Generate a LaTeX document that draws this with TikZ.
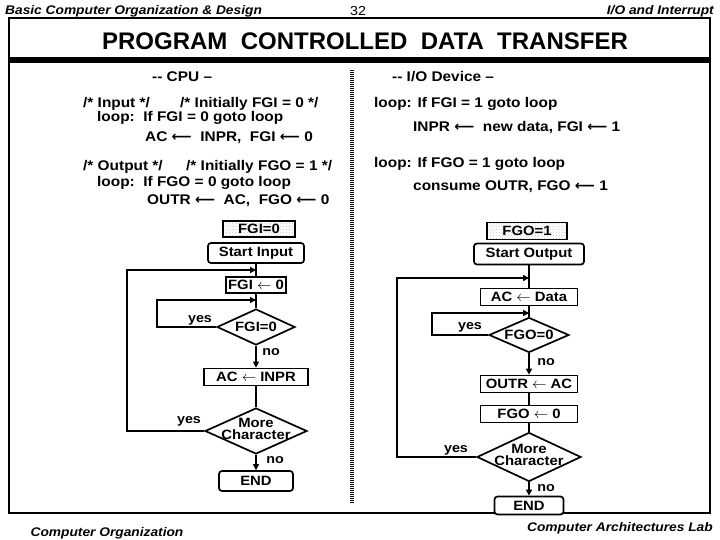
\documentclass[tikz,border=0pt]{standalone}
\usepackage{fontspec}
\setmainfont{Liberation Sans}[FakeStretch=1.1]
\newfontfamily\titlefont{Liberation Sans}
\newfontfamily\arrfont{DejaVu Sans}
\usetikzlibrary{shapes.geometric,arrows.meta,patterns}
\newcommand{\larr}{{\arrfont\bfseries ⟵}}
\newcommand{\sarr}{$\leftarrow$}
\begin{document}
\begin{tikzpicture}[x=1pt,y=-1pt,
  txt/.style={font=\fontsize{14}{16}\selectfont\bfseries, inner sep=0pt, anchor=base west},
  hdr/.style={font=\fontsize{12.5}{14}\selectfont\bfseries\itshape, inner sep=0pt},
  box/.style={draw, line width=1.7pt, fill=white, inner sep=0pt, font=\fontsize{13.5}{15}\selectfont\bfseries},
  rbox/.style={box, rounded corners=3pt},
  flag/.style={draw, line width=1.4pt, pattern=crosshatch dots, pattern color=gray!45, inner sep=0pt, font=\fontsize{13.5}{15}\selectfont\bfseries},
  dia/.style={diamond, draw, line width=1.7pt, inner sep=0pt},
  dlab/.style={font=\fontsize{13.5}{14}\selectfont\bfseries, inner sep=0pt, align=center},
  lab/.style={font=\fontsize{13}{14}\selectfont\bfseries, inner sep=0pt},
  flow/.style={line width=2pt},
  arr/.style={flow, -{Triangle[length=6pt,width=6pt]}}]
\useasboundingbox (0,0) rectangle (720,540);
% header and footer
\node[hdr, anchor=base west] (h1) at (5,15) {Basic Computer Organization \& Design};
\node[font=\fontsize{13}{14}\selectfont, inner sep=0pt, anchor=base] (h2) at (358,16) {32};
\node[hdr, anchor=base east] (h3) at (714,15) {I/O and Interrupt};
\node[hdr, anchor=base] (f1) at (107,536) {Computer Organization};
\node[hdr, anchor=base east] (f2) at (713,531) {Computer Architectures Lab};
% frame
\draw[line width=1.3pt] (9,18) rectangle (710,513);
\fill (9,57) rectangle (710,63);
\node[font=\titlefont\fontsize{24}{26}\selectfont\bfseries, inner sep=0pt, anchor=base] (title) at (365,50) {PROGRAM\ \ CONTROLLED\ \ DATA\ \ TRANSFER};
% separator
\draw[line width=4pt, dash pattern=on 1pt off 1pt] (352,70) -- (352,503);
% CPU text
\node[txt] (t1) at (152,82) {-{}- CPU --};
\node[txt] (t2) at (83,108) {/* Input */};
\node[txt] (t3) at (180,108) {/* Initially FGI = 0 */};
\node[txt] (t4) at (97,122) {loop:\ \ If FGI = 0 goto loop};
\node[txt] (t5) at (145,142) {AC \larr\ \ INPR,\ \ FGI \larr\ 0};
\node[txt] (t6) at (83,171) {/* Output */};
\node[txt] (t7) at (186,171) {/* Initially FGO = 1 */};
\node[txt] (t8) at (97,187) {loop:\ \ If FGO = 0 goto loop};
\node[txt] (t9) at (147,205) {OUTR \larr\ \ AC,\ \ FGO \larr\ 0};
% I/O device text
\node[txt] (u1) at (392,82) {-{}- I/O Device --};
\node[txt] (u2) at (374,108) {loop: If FGI = 1 goto loop};
\node[txt] (u3) at (413,132) {INPR \larr\ \ new data, FGI \larr\ 1};
\node[txt] (u4) at (374,168) {loop: If FGO = 1 goto loop};
\node[txt] (u5) at (413,191) {consume OUTR, FGO \larr\ 1};
% left flowchart
\node[flag, minimum width=72, minimum height=16] (fgi0) at (259,229) {FGI=0};
\node[rbox, minimum width=96, minimum height=20] (startin) at (256,253) {Start Input};
\node[box, minimum width=60, minimum height=16] (fgiz) at (256,285) {FGI \sarr\ 0};
\node[dia, minimum width=78, minimum height=36] (d1) at (256,327) {};
\node[dlab] (d1t) at (d1.center) {FGI=0};
\node[box, minimum width=104, minimum height=17] (acinpr) at (256,377) {AC \sarr\ INPR};
\node[dia, minimum width=102, minimum height=46] (d2) at (256,431) {};
\node[dlab] (d2t) at (256,429) {More\\[-2pt]Character};
\node[rbox, minimum width=74, minimum height=20] (end1) at (256,481) {END};
\coordinate (j1) at (256,270);
\coordinate (c1) at (127,270);
\coordinate (j2) at (256,300);
\coordinate (c2) at (157,300);
\draw[flow] (startin) -- (fgiz);
\draw[flow] (fgiz) -- (d1);
\draw[arr] (d2.west) -| (c1) -- (j1);
\draw[arr] (d1.west) -| (c2) -- (j2);
\draw[arr] (d1.south) -- (acinpr.north);
\draw[flow] (acinpr) -- (d2);
\draw[arr] (d2.south) -- (end1.north);
\node[lab] (y1) at (200,320) {yes};
\node[lab] (n1) at (271,352) {no};
\node[lab] (y2) at (189,421) {yes};
\node[lab] (n2) at (275,460) {no};
% right flowchart
\node[flag, minimum width=80, minimum height=17] (fgo1) at (527,231) {FGO=1};
\node[rbox, minimum width=110, minimum height=21] (startout) at (529,254) {Start Output};
\node[box, minimum width=97, minimum height=17] (acdata) at (529,297) {AC \sarr\ Data};
\node[dia, minimum width=80, minimum height=35] (d3) at (529,335) {};
\node[dlab] (d3t) at (d3.center) {FGO=0};
\node[box, minimum width=97, minimum height=17] (outrac) at (529,384) {OUTR \sarr\ AC};
\node[box, minimum width=97, minimum height=17] (fgoz) at (529,414) {FGO \sarr\ 0};
\node[dia, minimum width=104, minimum height=49] (d4) at (529,457) {};
\node[dlab] (d4t) at (529,455) {More\\[-2pt]Character};
\node[rbox, minimum width=69, minimum height=18] (end2) at (529,505.5) {END};
\coordinate (j3) at (529,278);
\coordinate (c3) at (397,278);
\coordinate (j4) at (529,313);
\coordinate (c4) at (432,313);
\draw[flow] (startout) -- (acdata);
\draw[flow] (acdata) -- (d3);
\draw[arr] (d4.west) -| (c3) -- (j3);
\draw[arr] (d3.west) -| (c4) -- (j4);
\draw[arr] (d3.south) -- (outrac.north);
\draw[flow] (outrac) -- (fgoz);
\draw[flow] (fgoz) -- (d4);
\draw[arr] (d4.south) -- (end2.north);
\node[lab] (y3) at (470,327) {yes};
\node[lab] (n3) at (546,362) {no};
\node[lab] (y4) at (456,450) {yes};
\node[lab] (n4) at (546,488) {no};
\end{tikzpicture}
\end{document}
